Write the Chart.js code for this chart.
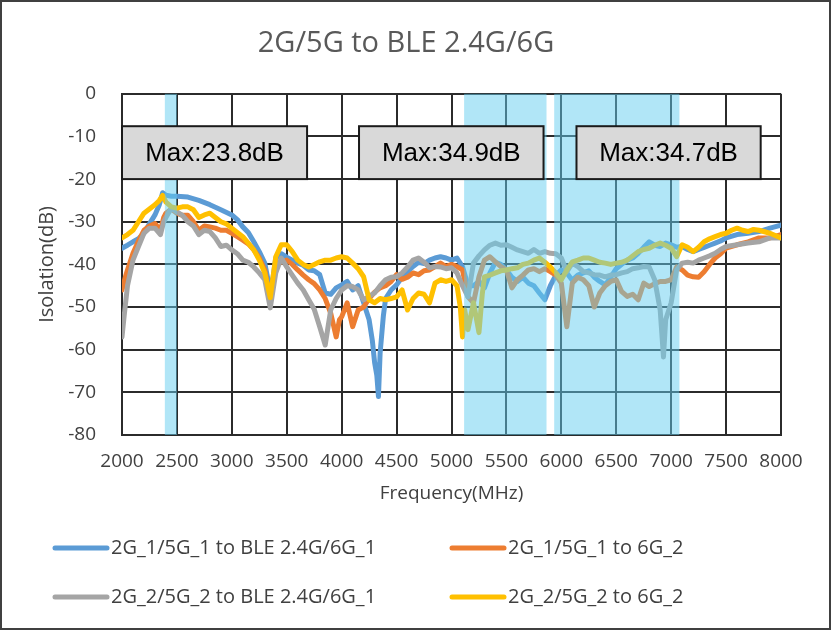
<!DOCTYPE html>
<html>
<head>
<meta charset="utf-8">
<script src="https://cdn.jsdelivr.net/npm/chart.js@4/dist/chart.umd.min.js"></script>
<style>
  html, body { margin: 0; padding: 0; background: #fff; }
  #wrap { width: 831px; height: 630px; }
</style>
</head>
<body>
<div id="wrap"><canvas id="chart" width="831" height="630"></canvas></div>
<script>
// series names and colours
var seriesNames = [
  "2G_1/5G_1 to BLE 2.4G/6G_1",
  "2G_1/5G_1 to 6G_2",
  "2G_2/5G_2 to BLE 2.4G/6G_1",
  "2G_2/5G_2 to 6G_2"
];
var seriesColors = ["#5b9bd5", "#ed7d31", "#a5a5a5", "#ffc000"];

// series 1 (blue)
var blueFreq = [2000,2050,2100,2150,2200,2250,2300,2340,2370,2400,2450,2500,2600,2700,2800,2900,3000,3050,3100,3150,3200,3250,3300,3340,3370,3400,3450,3500,3550,3600,3650,3700,3750,3800,3850,3900,3950,4000,4050,4100,4150,4200,4250,4280,4300,4320,4335,4350,4380,4400,4450,4500,4550,4600,4650,4700,4750,4800,4850,4900,4950,5000,5050,5100,5150,5200,5250,5300,5350,5400,5450,5500,5550,5600,5650,5700,5750,5800,5850,5900,5950,6000,6050,6100,6150,6200,6250,6300,6350,6400,6450,6500,6550,6600,6650,6700,6750,6800,6850,6900,6950,7000,7050,7100,7150,7200,7250,7300,7350,7400,7450,7500,7600,7700,7800,7900,8000];
var blueVal  = [-36.2,-35.5,-34.7,-34,-32.7,-30.5,-28.4,-26,-23.2,-23.8,-24,-24,-24.2,-25,-26,-27.2,-28.4,-29.5,-31.2,-32.5,-34.7,-37,-39.7,-45,-44,-38.5,-37.5,-38.3,-39,-39.7,-40.2,-41.3,-41.5,-42.4,-46.7,-47,-45.5,-44.8,-44,-46,-45,-49,-53,-58,-63,-66,-71,-60.8,-52,-48,-46,-44.8,-43,-41.7,-40.5,-39.5,-39.8,-39,-38.5,-38.2,-38.5,-39,-38.5,-40.5,-45,-45,-44,-45.5,-42,-39.5,-40,-41.3,-43,-44,-43,-44.4,-45,-46.7,-48.3,-45,-42.5,-41.3,-42,-43.7,-42.5,-42,-41.5,-43,-44,-44.8,-43,-41,-40,-39,-38.5,-37.4,-36,-34.7,-35.5,-35.8,-35,-35.4,-36,-35.8,-36.5,-37,-36.5,-36,-35.5,-35,-34.5,-33.8,-33,-32.7,-32.3,-31.5,-30.8];

// series 2 (orange)
var orangeFreq = [2000,2030,2050,2100,2150,2200,2250,2300,2350,2380,2400,2450,2500,2550,2600,2650,2700,2750,2800,2850,2900,2950,3000,3050,3100,3150,3200,3250,3300,3340,3360,3400,3450,3500,3550,3600,3650,3700,3750,3800,3850,3900,3950,3980,4000,4050,4100,4150,4200,4250,4300,4350,4400,4450,4500,4550,4600,4650,4700,4750,4800,4850,4900,4950,5000,5050,5100,5150,5200,5250,5300,5350,5400,5450,5500,5550,5600,5650,5700,5750,5800,5850,5900,5950,6000,6050,6100,6150,6200,6250,6300,6350,6400,6450,6500,6550,6600,6650,6700,6750,6800,6850,6900,6950,7000,7050,7100,7150,7200,7250,7300,7350,7400,7450,7500,7600,7700,7800,7900,8000];
var orangeVal  = [-46,-43,-41.3,-37.4,-34.5,-32,-31,-30.4,-32,-29,-28,-27,-28,-28.5,-28.5,-30,-32,-31,-31.2,-31.5,-32,-32,-32.7,-33.5,-34.3,-35.2,-36.6,-38.5,-41.3,-47,-46,-40,-39.5,-39,-40,-41.3,-42.5,-43.6,-44.5,-46,-48,-51.4,-57,-53,-52.3,-49,-54.6,-50.7,-50,-48,-46.5,-45.5,-45,-44,-42.4,-43.5,-43,-42,-42.4,-41.5,-41.3,-40.5,-39.7,-40.5,-40,-40.5,-41.3,-47.6,-49,-42.9,-39,-38.2,-39.4,-40.5,-41.3,-45.5,-43.6,-42.5,-41.3,-41,-41.7,-41,-41.7,-42.5,-44.4,-54.6,-44.4,-43,-43.6,-45,-50,-46.7,-45,-44,-43.6,-46.4,-47.5,-47,-48.3,-44.4,-45.2,-44.5,-44,-44,-43.6,-40.6,-41.3,-42.5,-42.9,-43,-41.7,-40,-38.5,-37.5,-36.2,-35.4,-34.7,-33.8,-33.8,-33];

// series 3 (grey)
var greyFreq = [2000,2020,2050,2100,2150,2200,2250,2300,2350,2380,2400,2450,2500,2550,2600,2650,2700,2750,2800,2850,2900,2950,3000,3050,3100,3150,3200,3250,3300,3350,3400,3450,3500,3550,3600,3650,3700,3750,3800,3850,3900,3950,4000,4050,4100,4150,4200,4250,4300,4350,4400,4450,4500,4550,4600,4650,4700,4750,4800,4850,4900,4950,5000,5050,5100,5150,5200,5250,5300,5350,5400,5450,5500,5550,5600,5650,5700,5750,5800,5850,5900,5950,6000,6050,6100,6150,6200,6250,6300,6350,6400,6450,6500,6550,6600,6650,6700,6750,6800,6850,6900,6930,6950,7000,7050,7100,7150,7200,7250,7300,7350,7400,7450,7500,7600,7700,7800,7900,8000];
var greyVal  = [-57,-52,-45,-39,-35.8,-32.7,-31.5,-31.5,-33,-30,-29,-26.8,-27.7,-28.5,-30,-31,-33,-32,-32.3,-33.8,-35.8,-35.5,-36.6,-37.5,-39,-39.5,-40.6,-42,-43.6,-50.2,-42,-38.5,-40.6,-42.5,-44.4,-46,-48.3,-50.5,-54.6,-58.9,-50.7,-48,-46,-45,-45.2,-46,-48.3,-47.5,-46.7,-45,-43.6,-43,-42.9,-42,-40.6,-39,-38.5,-39.5,-40.8,-40.5,-40.6,-41,-40.8,-42,-45,-47.6,-39.7,-38,-36.6,-35.5,-35,-35.5,-35.4,-36,-36.6,-37,-37.4,-36.5,-37.4,-37,-37.4,-37.5,-38.5,-41.7,-39.7,-40.5,-41.7,-42,-42.4,-42.5,-42.9,-42.5,-42.4,-42,-41.7,-41,-40.8,-40.5,-40.6,-43.6,-50.7,-61.7,-53,-49,-41.3,-39.7,-39.5,-39.7,-39,-38.5,-38,-37.4,-36.5,-35.8,-35.4,-35,-34.7,-33.8,-33.8];

// series 4 (yellow)
var yellowFreq = [2000,2050,2100,2150,2200,2250,2300,2340,2370,2400,2450,2500,2550,2600,2650,2700,2750,2800,2850,2900,2950,3000,3050,3100,3150,3200,3250,3300,3350,3400,3450,3500,3550,3600,3650,3700,3750,3800,3850,3900,3950,4000,4050,4100,4150,4200,4250,4300,4350,4400,4450,4500,4550,4600,4650,4700,4750,4800,4850,4900,4950,5000,5050,5080,5100,5120,5150,5200,5250,5280,5300,5350,5400,5450,5500,5550,5600,5650,5700,5750,5800,5850,5900,5950,6000,6050,6100,6150,6200,6250,6300,6350,6400,6450,6500,6550,6600,6650,6700,6750,6800,6850,6900,6950,7000,7050,7100,7150,7200,7250,7300,7350,7400,7450,7500,7550,7600,7650,7700,7750,7800,7900,8000];
var yellowVal  = [-33.8,-33,-32,-30,-28,-27,-26,-25,-23.8,-25.4,-26.5,-26.8,-26.5,-26.5,-27.2,-29,-28.4,-28,-29,-30,-30.5,-31.5,-32.5,-33.5,-35,-36.6,-39,-42,-47.8,-38.2,-35.4,-35.4,-37,-39,-40,-40.6,-40,-39.4,-39,-39,-38.5,-38.2,-38.5,-39.7,-41,-42.9,-48.3,-49,-48,-48.3,-48,-47.6,-46,-50.7,-48,-46.7,-47,-49,-44.4,-43.6,-44,-43.6,-45,-50,-57,-50.7,-55.3,-49,-56,-47,-42.9,-42.5,-42,-41.5,-41.3,-41,-40.8,-40,-39.7,-39,-38.5,-39.5,-40.6,-42,-43.6,-41.3,-39.4,-39,-38.5,-38.5,-39,-39.5,-39.7,-40,-39.7,-39.5,-39,-38,-37,-36.5,-36.2,-35.5,-35,-35.5,-36.2,-38.2,-35.4,-36,-37,-36,-34.7,-34,-33.5,-33,-32.7,-32,-31.5,-32,-32.3,-31.8,-32,-32.7,-33.8];

// frequency bands (MHz) and the max labels above them
var bandStart = [2390, 5115, 5935];
var bandEnd   = [2500, 5865, 7075];
var boxStart  = [2000, 4158, 6138];
var boxEnd    = [3685, 5838, 7815];
var boxTop = -7.6, boxBottom = -20;
var boxText   = ["Max:23.8dB", "Max:34.9dB", "Max:34.7dB"];

var xTicksMin = 2000, xTicksMax = 8000, xStep = 500;
var yTicksMin = -80, yTicksMax = 0, yStep = 10;

var font = "'Open Sans', 'Noto Sans', sans-serif";

function pts(fr, v) {
  return fr.map(function (f, i) { return { x: f, y: v[i] }; });
}
var allFreq = [blueFreq, orangeFreq, greyFreq, yellowFreq];
var allVal = [blueVal, orangeVal, greyVal, yellowVal];

var datasets = seriesNames.map(function (name, i) {
  return {
    label: name,
    data: pts(allFreq[i], allVal[i]),
    borderColor: seriesColors[i],
    backgroundColor: seriesColors[i],
    borderWidth: 5,
    borderJoinStyle: "round",
    borderCapStyle: "round",
    pointRadius: 0,
    tension: 0,
    order: 4 - i
  };
});

var overlayPlugin = {
  id: "overlay",
  beforeDraw: function (chart) {
    var ctx = chart.ctx;
    ctx.save();
    ctx.fillStyle = "#fff";
    ctx.fillRect(0, 0, chart.width, chart.height);
    ctx.restore();
  },
  afterDatasetsDraw: function (chart) {
    var ctx = chart.ctx, xs = chart.scales.x, ys = chart.scales.y;
    var top = ys.getPixelForValue(yTicksMax), bot = ys.getPixelForValue(yTicksMin);
    ctx.save();
    // shaded bands go over the curves
    ctx.fillStyle = "rgba(100, 205, 240, 0.5)";
    bandStart.forEach(function (s, i) {
      var x0 = xs.getPixelForValue(s), x1 = xs.getPixelForValue(bandEnd[i]);
      ctx.fillRect(x0, top, x1 - x0, bot - top);
    });
    // max boxes
    var y0 = ys.getPixelForValue(boxTop), y1 = ys.getPixelForValue(boxBottom);
    boxStart.forEach(function (s, i) {
      var x0 = xs.getPixelForValue(s), x1 = xs.getPixelForValue(boxEnd[i]);
      ctx.fillStyle = "#d9d9d9";
      ctx.fillRect(x0, y0, x1 - x0, y1 - y0);
      ctx.lineWidth = 2;
      ctx.strokeStyle = "#1a1a1a";
      ctx.strokeRect(x0, y0, x1 - x0, y1 - y0);
      ctx.fillStyle = "#000";
      ctx.font = "26px 'Liberation Sans', Arial, sans-serif";
      ctx.textAlign = "center";
      ctx.textBaseline = "middle";
      ctx.fillText(boxText[i], (x0 + x1) / 2, (y0 + y1) / 2 + 1);
    });
    ctx.restore();
  },
  afterDraw: function (chart) {
    var ctx = chart.ctx;
    ctx.save();
    // legend, two columns
    var colX = [55, 452], rowY = [548, 597];
    seriesNames.forEach(function (name, i) {
      var cx = colX[i % 2], cy = rowY[Math.floor(i / 2)];
      ctx.strokeStyle = seriesColors[i];
      ctx.lineWidth = 5;
      ctx.lineCap = "round";
      ctx.beginPath();
      ctx.moveTo(cx, cy);
      ctx.lineTo(cx + 52, cy);
      ctx.stroke();
      ctx.fillStyle = "#404040";
      ctx.font = "20px " + font;
      ctx.textAlign = "left";
      ctx.textBaseline = "middle";
      ctx.fillText(name, cx + 56, cy);
    });
    // outer frame
    ctx.strokeStyle = "#404040";
    ctx.lineWidth = 2;
    ctx.strokeRect(1, 1, chart.width - 2, chart.height - 2);
    ctx.restore();
  }
};

new Chart(document.getElementById("chart"), {
  type: "line",
  data: { datasets: datasets },
  plugins: [overlayPlugin],
  options: {
    responsive: false,
    animation: false,
    layout: { padding: { top: 0, left: 31, right: 50, bottom: 120 } },
    plugins: {
      legend: { display: false },
      tooltip: { enabled: false },
      title: {
        display: true,
        text: "2G/5G to BLE 2.4G/6G",
        color: "#595959",
        font: { family: font, size: 29, weight: "normal" },
        padding: { top: 26, bottom: 33 }
      }
    },
    scales: {
      x: {
        type: "linear",
        min: xTicksMin, max: xTicksMax,
        afterFit: function (s) { s.height = 75; },
        ticks: {
          stepSize: xStep, color: "#404040", padding: 15, maxRotation: 0,
          font: { family: font, size: 19 },
          callback: function (v) { return String(v); }
        },
        grid: { color: "#2b2b2b", lineWidth: 2, drawTicks: false },
        border: { color: "#2b2b2b", width: 2 },
        title: { display: true, text: "Frequency(MHz)", color: "#404040", font: { family: font, size: 19 }, padding: { top: 0, bottom: 5 } }
      },
      y: {
        min: yTicksMin, max: yTicksMax,
        afterFit: function (s) { s.width = 91; },
        ticks: { stepSize: yStep, color: "#404040", padding: 26, font: { family: font, size: 19 } },
        grid: { color: "#2b2b2b", lineWidth: 2, drawTicks: false },
        border: { color: "#2b2b2b", width: 2 },
        title: { display: true, text: "Isolation(dB)", color: "#404040", font: { family: font, size: 20 }, padding: { top: 4, bottom: 4 } }
      }
    }
  }
});
</script>
</body>
</html>
